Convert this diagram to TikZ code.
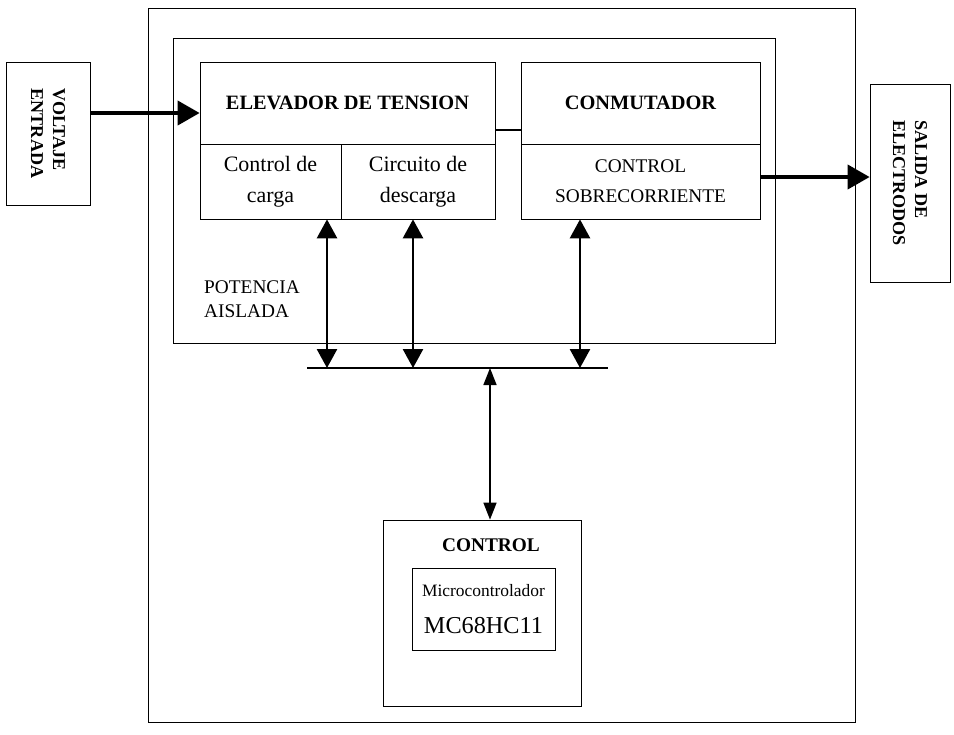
\documentclass[tikz,border=0pt]{standalone}
\usepackage{fontspec}
\setmainfont{Liberation Serif}
\usetikzlibrary{arrows.meta}
\begin{document}
\begin{tikzpicture}[
  box/.style={draw, rectangle, inner sep=0pt, align=center, font=\fontsize{11}{17}\selectfont},
  head/.style={font=\fontsize{11.6}{14}\selectfont\bfseries},
  side/.style={font=\fontsize{10.3}{12.5}\selectfont\bfseries},
  sub/.style={font=\fontsize{12.5}{17.5}\selectfont},
  big/.style={-{Triangle[length=0.44cm,width=0.48cm]}, line width=2.2pt},
  busarrow/.style={{Triangle[length=0.38cm,width=0.4cm]}-{Triangle[length=0.38cm,width=0.4cm]}, line width=1.5pt},
  thinarrow/.style={{Triangle[length=0.34cm,width=0.26cm]}-{Triangle[length=0.34cm,width=0.26cm]}, line width=0.9pt}
]
\useasboundingbox (0,0) rectangle (19.08,-14.68);

\node[box, minimum width=14.14cm, minimum height=14.28cm] (outer) at (10.03,-7.3) {};
\node[box, minimum width=12.04cm, minimum height=6.1cm] (pot) at (9.48,-3.81) {};
\node[anchor=west, align=left, font=\fontsize{11}{14}\selectfont] (potlbl) at (3.96,-5.98) {POTENCIA\\AISLADA};

\node[box, side, rotate=-90, minimum width=2.86cm, minimum height=1.68cm, align=left] (volt) at (0.96,-2.67) {VOLTAJE\\ENTRADA};
\node[box, side, rotate=-90, minimum width=3.96cm, minimum height=1.6cm, align=left] (salida) at (18.2,-3.66) {SALIDA DE\\ELECTRODOS};

\node[box, head, minimum width=5.9cm, minimum height=1.64cm] (elev) at (6.95,-2.06) {ELEVADOR DE TENSION};
\node[box, sub, minimum width=2.82cm, minimum height=1.5cm] (carga) at (5.41,-3.63) {Control de\\carga};
\node[box, sub, minimum width=3.08cm, minimum height=1.5cm] (descarga) at (8.36,-3.63) {Circuito de\\descarga};

\node[box, head, minimum width=4.78cm, minimum height=1.64cm] (conm) at (12.81,-2.06) {CONMUTADOR};
\node[box, minimum width=4.78cm, minimum height=1.5cm] (sobre) at (12.81,-3.63) {CONTROL\\SOBRECORRIENTE};

\node[box, minimum width=3.96cm, minimum height=3.72cm] (ctrl) at (9.64,-12.26) {};
\node[head, font=\fontsize{11}{14}\selectfont\bfseries] (ctrllbl) at (9.82,-10.9) {CONTROL};
\node[box, minimum width=2.86cm, minimum height=1.64cm] (micro) at (9.67,-12.18) {{\fontsize{9.9}{12}\selectfont Microcontrolador}\\[4pt]{\fontsize{13.8}{16}\selectfont MC68HC11}};

\coordinate (busL) at (6.14,-7.36);
\coordinate (busR) at (12.16,-7.36);
\coordinate (b1) at (6.54,-7.36);
\coordinate (b2) at (8.26,-7.36);
\coordinate (b3) at (11.6,-7.36);
\coordinate (b4) at (9.8,-7.36);
\path[draw,line width=1.1pt] (busL) -- (busR);

\path[draw,busarrow] (b1) -- (b1 |- carga.south);
\path[draw,busarrow] (b2) -- (b2 |- descarga.south);
\path[draw,busarrow] (b3) -- (b3 |- sobre.south);
\path[draw,thinarrow] (b4) -- (b4 |- ctrl.north);

\coordinate (iny) at ([yshift=-0.2cm]elev.west);
\path[draw,big] (iny -| volt.north) -- (iny);
\coordinate (lk) at ([yshift=-0.54cm]elev.east);
\path[draw,line width=1.6pt] (lk) -- (lk -| conm.west);
\coordinate (outy) at ([yshift=0.09cm]sobre.east);
\path[draw,big] (outy) -- (outy -| salida.south);
\end{tikzpicture}
\end{document}
